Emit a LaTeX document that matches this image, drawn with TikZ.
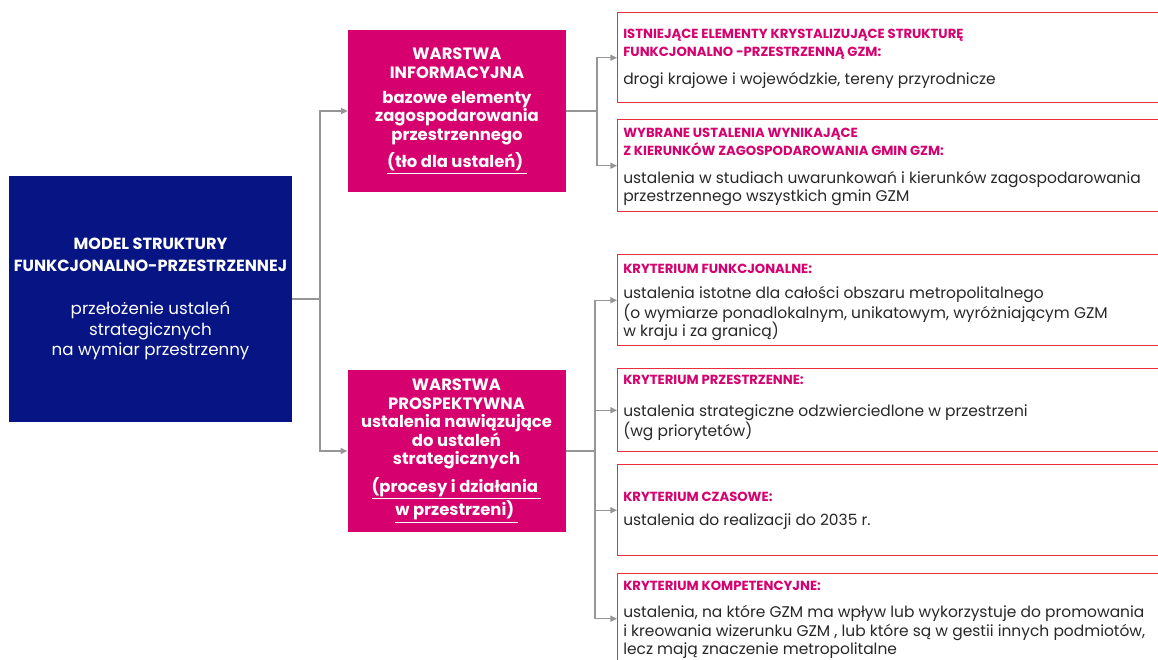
\documentclass[tikz,border=0pt]{standalone}
\usepackage{fontspec}
\setmainfont{Poppins}
\usetikzlibrary{arrows.meta,positioning}
\definecolor{gzmnavy}{RGB}{6,20,132}
\definecolor{gzmpink}{RGB}{214,0,110}
\definecolor{gzmred}{RGB}{236,45,60}
\definecolor{linkgray}{RGB}{150,150,150}
\definecolor{txtgray}{RGB}{40,40,40}

\begin{document}
\begin{tikzpicture}[x=0.75pt,y=-0.75pt,
    mainbox/.style={rectangle, fill=gzmnavy, text=white, minimum width=212.25pt, minimum height=184.5pt, align=center, inner sep=0pt, font=\fontsize{12.5}{15.4}\selectfont},
    layer/.style={rectangle, fill=gzmpink, text=white, minimum width=163.5pt, minimum height=121.5pt, align=center, inner sep=0pt, font=\bfseries\fontsize{12.3}{13.9}\selectfont},
    critbox/.style={rectangle, draw=gzmred, line width=1.1pt, minimum width=418.5pt, anchor=north west, inner sep=0pt},
    crithead/.style={anchor=west, align=left, text=gzmpink, inner sep=0pt, font=\bfseries\fontsize{9.9}{13.5}\selectfont},
    critbody/.style={anchor=west, align=left, text=txtgray, inner sep=0pt, font=\fontsize{11.6}{13.9}\selectfont},
    link/.style={draw=linkgray, line width=1pt},
    arrow/.style={link, -{Triangle[length=5pt,width=4.5pt]}}
]
\useasboundingbox (0,0) rectangle (1158,660);
\clip (0,0) rectangle (1158,660);
\fill[white] (0,0) rectangle (1158,660);

% Model
\node[mainbox] (model) at (150.5,299) {
    {\bfseries\fontsize{12.1}{16.5}\selectfont MODEL STRUKTURY}\\[1pt]
    {\bfseries\fontsize{12.1}{16.5}\selectfont FUNKCJONALNO-PRZESTRZENNEJ}\\[17pt]
    przełożenie ustaleń\\
    strategicznych\\
    na wymiar przestrzenny
};

% Layers
\node[layer] (info) at (457,111) {
    WARSTWA\\
    INFORMACYJNA\\[5pt]
    bazowe elementy\\
    zagospodarowania\\
    przestrzennego\\[5pt]
    \underline{(tło dla ustaleń)\ }
};

\node[layer] (prosp) at (456.5,451) {
    WARSTWA\\
    PROSPEKTYWNA\\
    ustalenia nawiązujące\\
    do ustaleń\\
    strategicznych\\[5pt]
    \underline{(procesy i działania\ }\\
    \underline{w przestrzeni)\ }
};

% Criteria boxes
\node[critbox, minimum height=67.5pt] (k1) at (617,12) {};
\node[critbox, minimum height=69pt] (k2) at (617,119) {};
\node[critbox, minimum height=68.25pt] (k3) at (617,254) {};
\node[critbox, minimum height=62.25pt] (k4) at (617,368) {};
\node[critbox, minimum height=68.25pt] (k5) at (617,464) {};
\node[critbox, minimum height=67.5pt] (k6) at (617,573) {};

% Criteria texts
\node[crithead] (k1h) at (623,44) {ISTNIEJĄCE ELEMENTY KRYSTALIZUJĄCE STRUKTURĘ\\FUNKCJONALNO -PRZESTRZENNĄ GZM:};
\node[critbody] (k1b) at (623,80) {drogi krajowe i wojewódzkie, tereny przyrodnicze};

\node[crithead] (k2h) at (623,141.5) {WYBRANE USTALENIA WYNIKAJĄCE\\Z KIERUNKÓW ZAGOSPODAROWANIA GMIN GZM:};
\node[critbody] (k2b) at (623,188.5) {ustalenia w studiach uwarunkowań i kierunków zagospodarowania\\przestrzennego wszystkich gmin GZM};

\node[crithead] (k3h) at (623,269) {KRYTERIUM FUNKCJONALNE:};
\node[critbody] (k3b) at (623,313.5) {ustalenia istotne dla całości obszaru metropolitalnego\\(o wymiarze ponadlokalnym, unikatowym, wyróżniającym GZM\\w kraju i za granicą)};

\node[crithead] (k4h) at (623,380) {KRYTERIUM PRZESTRZENNE:};
\node[critbody] (k4b) at (623,422.5) {ustalenia strategiczne odzwierciedlone w przestrzeni\\(wg priorytetów)};

\node[crithead] (k5h) at (623,497) {KRYTERIUM CZASOWE:};
\node[critbody] (k5b) at (623,522) {ustalenia do realizacji do 2035 r.};

\node[crithead] (k6h) at (623,586) {KRYTERIUM KOMPETENCYJNE:};
\node[critbody] (k6b) at (623,632) {ustalenia, na które GZM ma wpływ lub wykorzystuje do promowania\\i kreowania wizerunku GZM , lub które są w gestii innych podmiotów,\\lecz mają znaczenie metropolitalne};

% Connectors
\coordinate (j0) at (320,299);
\coordinate (j1) at (597,111);
\coordinate (j2) at (595,451);

\draw[link] (model.east) -- (j0);
\draw[arrow] (j0) |- (info.west);
\draw[arrow] (j0) |- (prosp.west);

\draw[link] (info.east) -- (j1);
\draw[arrow] (j1) |- (k1.west);
\draw[arrow] (j1) |- (k2.west);

\draw[link] (prosp.east) -- (j2);
\draw[arrow] (j2) |- (k3.west);
\draw[arrow] (j2) |- (k4.west);
\draw[arrow] (j2) |- (k5.west);
\draw[arrow] (j2) |- (k6.west);

\end{tikzpicture}
\end{document}
